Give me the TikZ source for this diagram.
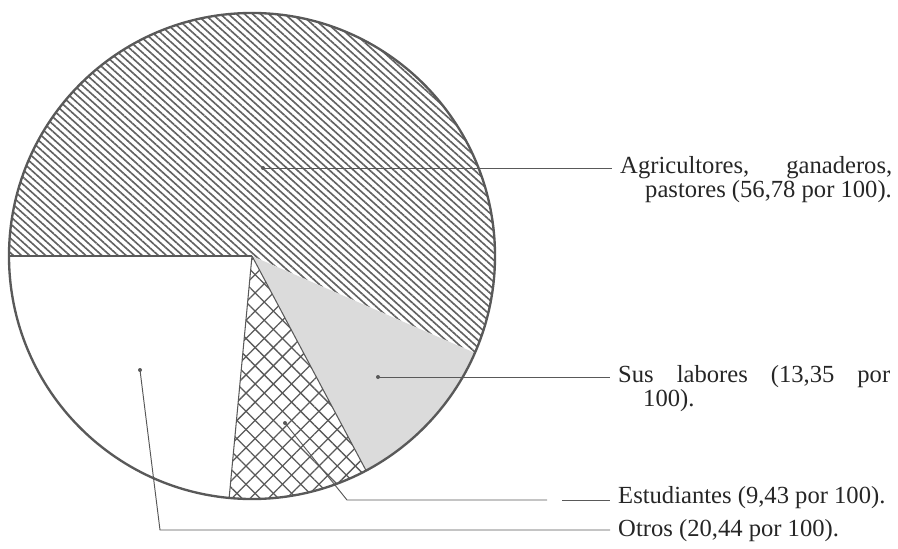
\documentclass[tikz,border=0pt]{standalone}
\usepackage{fontspec}
\setmainfont{Liberation Serif}
\usetikzlibrary{patterns.meta, positioning}
\definecolor{inkgray}{gray}{0.35}
\definecolor{hatchgray}{gray}{0.38}
\definecolor{stipple}{gray}{0.86}

\tikzset{
  edge/.style={draw=inkgray, line width=0.9pt},
  leader/.style={draw=inkgray, line width=0.8pt},
  pin/.style={fill=inkgray},
  lbl/.style={anchor=west, inner xsep=0.24cm, inner ysep=0pt,
    font=\fontsize{21}{24}\selectfont, text=black!85},
  agrfill/.style={pattern={Lines[angle=-42, distance=4.6pt, line width=1.4pt]}, pattern color=hatchgray},
  susfill/.style={fill=stipple},
  estfill/.style={pattern={Lines[angle=45, distance=11pt, line width=1.1pt]}, pattern color=inkgray,
    postaction={pattern={Lines[angle=-45, distance=11pt, line width=1.1pt]}, pattern color=inkgray}}
}
\newcommand{\fullline}[1]{\hbox to 8.16cm{#1}}

\begin{document}
\begin{tikzpicture}[x=0.03cm, y=0.03cm]
  \def \radius {243}
  \useasboundingbox (0,0) rectangle (898,548);
  \coordinate (c) at (252,292);

  % slices, angles as drawn
  \foreach \a/\b/\sty in {-23.5/180/agrfill, -62/-23.5/susfill, -95.4/-62/estfill}
  {
    \fill[\sty] (c) -- ++(\a:\radius) arc[start angle=\a, end angle=\b, radius=\radius] -- cycle;
  }
  \foreach \a in {180,-62,-95.4}
    \draw[edge] (c) -- ++(\a:\radius);
  \draw[draw=inkgray, line width=2pt] (c) circle[radius=\radius];

  % labels
  \node[lbl] (agr) at (612,380) {\fullline{Agricultores,\hfill ganaderos,}};
  \node[lbl] (agr2) at (612,356) {\hspace*{0.75cm}pastores (56,78 por 100).};
  \node[lbl] (sus) at (610,171) {\fullline{Sus\hfill labores\hfill (13,35\hfill por}};
  \node[lbl] (sus2) at (610,147) {\hspace*{0.75cm}100).};
  \node[lbl] (est) at (610,50) {Estudiantes (9,43 por 100).};
  \node[lbl] (otr) at (610,17) {Otros (20,44 por 100).};

  % leaders
  \coordinate (agrdot) at (263,380);
  \coordinate (susdot) at (378,171);
  \coordinate (estdot) at (285,125);
  \coordinate (estbend) at (347,48);
  \coordinate (estgap) at (547,48);
  \coordinate (estgap2) at (562,48);
  \coordinate (otrdot) at (140,178);
  \coordinate (otrbend) at (160,18);
  \foreach \p in {agrdot, susdot, estdot, otrdot}
    \fill[pin] (\p) circle[radius=2];
  \draw[leader] (agrdot) -- (agr.west);
  \draw[leader] (susdot) -- (sus.west);
  \draw[leader] (estdot) -- (estbend) -- (estgap);
  \draw[leader] (estgap2) -- (est.west |- estgap2);
  \draw[leader] (otrdot) -- (otrbend) -- (otrbend -| otr.west);
\end{tikzpicture}
\end{document}
